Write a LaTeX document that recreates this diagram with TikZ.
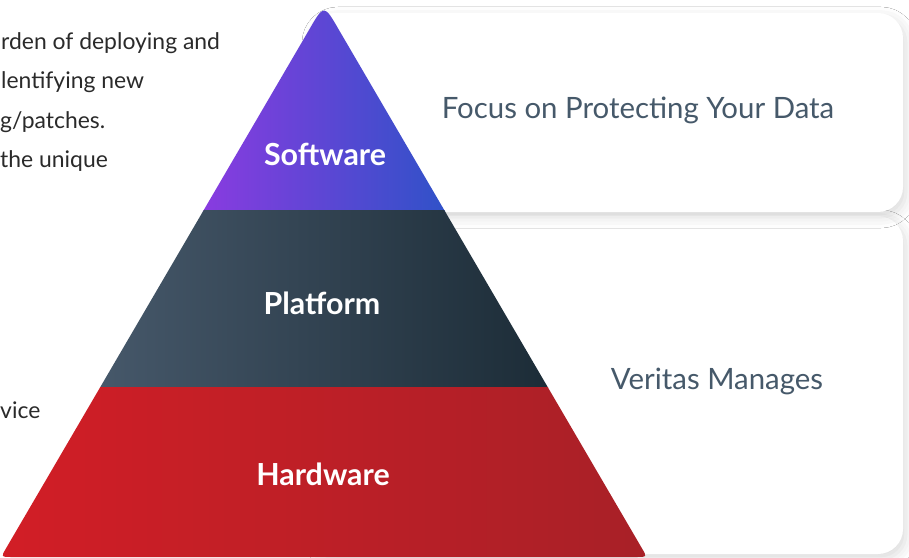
\documentclass[tikz,border=0pt]{standalone}
\usepackage{fontspec}
\setmainfont{Lato}
\usetikzlibrary{shadows.blur}
\definecolor{swL}{HTML}{8A3BE0}
\definecolor{swR}{HTML}{2F52C8}
\definecolor{plL}{HTML}{46586A}
\definecolor{plR}{HTML}{1C2C37}
\definecolor{hwL}{HTML}{D21E26}
\definecolor{hwR}{HTML}{A82027}
\definecolor{boxtext}{HTML}{46596A}
\definecolor{bodytext}{HTML}{2A2A2A}
\tikzset{
  card/.style={fill=white, rounded corners=25bp,
    blur shadow={shadow xshift=3bp, shadow yshift=-5bp, shadow blur radius=11bp, shadow opacity=14}},
  cardtext/.style={text=boxtext, font=\fontsize{29.5}{34}\selectfont, inner sep=0pt},
  layertext/.style={text=white, font=\fontsize{30.5}{36}\selectfont\bfseries, inner sep=0pt},
  leftline/.style={text=bodytext, font=\fontsize{23}{27}\selectfont, inner sep=0pt, anchor=west}
}
\begin{document}
\begin{tikzpicture}[x=1bp,y=-1bp]
\useasboundingbox (0,0) rectangle (909,558);
\fill[white] (0,0) rectangle (909,558);
% cards
\path[card] (310,216) rectangle (903,554);
\path[card] (310,13) rectangle (903,212);
\node[cardtext] (focus) at (638,110) {Focus on Protecting Your Data};
\node[cardtext] (manages) at (717,381) {Veritas Manages};
% left text (cut off)
\node[leftline] (l1) at (1,43) {rden of deploying and};
\node[leftline] (l2) at (1,82) {lentifying new};
\node[leftline] (l3) at (0,122) {g/patches.};
\node[leftline] (l4) at (0,161) {the unique};
\node[leftline] (l5) at (0,410) {vice};
% pyramid
\begin{scope}
  \clip (309,30) .. controls (324,4) .. (339,30)
     -- (642,548.4) .. controls (647,557) .. (637,557)
     -- (11,557) .. controls (1,557) .. (6,548.4) -- cycle;
  \shade[left color=swL, right color=swR] (200,0) rectangle (448,211.5);
  \shade[left color=plL, right color=plR] (98,211) rectangle (550,387.5);
  \shade[left color=hwL, right color=hwR] (0,387) rectangle (648,560);
\end{scope}
\node[layertext] (sw) at (325,154) {Software};
\node[layertext] (pl) at (322,303) {Platform};
\node[layertext] (hw) at (323,474) {Hardware};
\end{tikzpicture}
\end{document}
